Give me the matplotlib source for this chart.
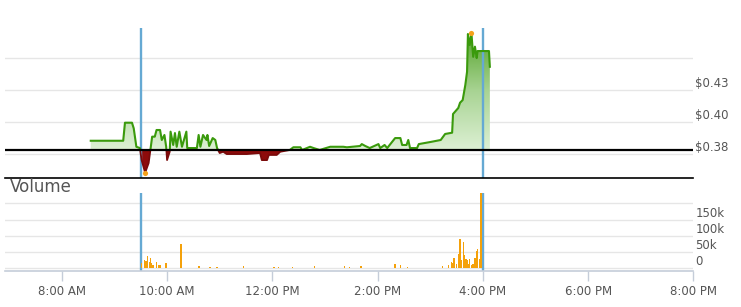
import matplotlib
matplotlib.use("Agg")
import matplotlib.pyplot as plt
import matplotlib.transforms as mtransforms
import numpy as np
from matplotlib.colors import LinearSegmentedColormap
from matplotlib.path import Path
from matplotlib.patches import Rectangle

# intraday price
price_times = ["8:33", "9:10", "9:12", "9:20", "9:22", "9:25", "9:29", "9:31", "9:35", "9:39",
               "9:41", "9:43", "9:46", "9:48", "9:52", "9:54", "9:57", "9:59", "10:00", "10:03",
               "10:04", "10:07", "10:09", "10:11", "10:14", "10:17", "10:22", "10:23", "10:34", "10:36",
               "10:38", "10:41", "10:45", "10:46", "10:48", "10:52", "10:55", "10:57", "11:00", "11:04",
               "11:08", "11:31", "11:46", "11:48", "11:54", "11:56", "12:05", "12:09", "12:20", "12:24",
               "12:32", "12:34", "12:43", "12:47", "12:54", "13:06", "13:21", "13:25", "13:40", "13:42",
               "13:46", "13:51", "14:01", "14:03", "14:08", "14:11", "14:20", "14:26", "14:28", "14:33",
               "14:35", "14:37", "14:45", "14:47", "15:00", "15:12", "15:17", "15:25", "15:26", "15:32",
               "15:34", "15:37", "15:40", "15:42", "15:43", "15:45", "15:47", "15:49", "15:51", "15:53",
               "15:54", "16:07", "16:08"]
price_values = [0.3856, 0.3856, 0.3997, 0.3997, 0.3953, 0.3809, 0.3799, 0.3705, 0.3606, 0.3682,
                0.3784, 0.3888, 0.3888, 0.3940, 0.3940, 0.3862, 0.3901, 0.3809, 0.3705, 0.3770,
                0.3927, 0.3823, 0.3916, 0.3809, 0.3927, 0.3809, 0.3927, 0.3799, 0.3799, 0.3901,
                0.3809, 0.3901, 0.3862, 0.3901, 0.3815, 0.3877, 0.3862, 0.3799, 0.3760, 0.3770,
                0.3752, 0.3752, 0.3760, 0.3705, 0.3705, 0.3745, 0.3745, 0.3770, 0.3784, 0.3805,
                0.3805, 0.3784, 0.3809, 0.3799, 0.3784, 0.3809, 0.3809, 0.3805, 0.3815, 0.3830,
                0.3815, 0.3799, 0.3830, 0.3799, 0.3823, 0.3799, 0.3877, 0.3877, 0.3823, 0.3823,
                0.3862, 0.3799, 0.3799, 0.3830, 0.3846, 0.3862, 0.3909, 0.3919, 0.4065, 0.4112,
                0.4153, 0.4174, 0.4291, 0.4395, 0.4690, 0.4604, 0.4698, 0.4512, 0.4591, 0.4502,
                0.4557, 0.4557, 0.4434]
prev_close = 0.3784
low_time, low_value = "9:35", 0.3606
high_time, high_value = "15:47", 0.4698
session_marks = ["9:30", "16:00"]

vol_times = ["9:31", "9:34", "9:36", "9:38", "9:40", "9:41", "9:42", "9:44", "9:48", "9:51",
             "9:52", "9:59", "10:16", "10:36", "10:37", "10:49", "10:57", "11:27", "12:02", "12:07",
             "12:23", "12:48", "13:22", "13:28", "13:41", "14:20", "14:26", "14:34", "15:14", "15:21",
             "15:24", "15:26", "15:27", "15:30", "15:32", "15:33", "15:34", "15:36", "15:38", "15:39",
             "15:41", "15:42", "15:44", "15:45", "15:47", "15:49", "15:51", "15:53", "15:54", "15:56",
             "15:58"]
vol_values = [17000, 26000, 23000, 38000, 19000, 32000, 17000, 10000, 19000, 9000,
              9000, 16000, 75000, 8000, 8000, 4000, 4000, 8000, 4000, 4000,
              4000, 8000, 8000, 4000, 8000, 13000, 10000, 4000, 8000, 10000,
              19000, 17000, 32000, 13000, 13000, 44000, 90000, 26000, 82000, 41000,
              28000, 26000, 13000, 28000, 10000, 13000, 33000, 54000, 60000, 28000,
              260000]

price_grid = [0.375, 0.40, 0.425, 0.45]
price_ticks = [0.375, 0.40, 0.425]
price_tick_labels = ["$0.38", "$0.40", "$0.43"]
vol_grid = [0, 50000, 100000, 150000, 200000]
vol_ticks = [0, 50000, 100000, 150000]
vol_tick_labels = ["0", "50k", "100k", "150k"]
x_ticks = [8, 10, 12, 14, 16, 18, 20]
x_tick_labels = ["8:00 AM", "10:00 AM", "12:00 PM", "2:00 PM", "4:00 PM", "6:00 PM", "8:00 PM"]


def hours(s):
    h, m = s.split(":")
    return int(h) + int(m) / 60


t = np.array([hours(s) for s in price_times])
p = np.array(price_values)
tv = np.array([hours(s) for s in vol_times])
v = np.array(vol_values)

xmin, xmax = 6.92, 20.0
grid_c = "#e6e6e6"
label_c = "#555555"
axis_c = "#c5cdd9"
blue = "#65a9d3"
green = "#3a9a0c"
red = "#8e0b0b"

fig = plt.figure(figsize=(7.41, 3.07), dpi=100)
ax = fig.add_axes([0.0067, 0.4202, 0.929, 0.4886])
axv = fig.add_axes([0.0067, 0.1182, 0.929, 0.2531])

# ---- price panel
for g in price_grid:
    ax.axhline(g, color=grid_c, lw=1, zorder=0)

up = ax.fill_between(t, p, prev_close, where=p >= prev_close, interpolate=True,
                     facecolor="none", edgecolor="none")
clip = Path.make_compound_path(*up.get_paths())
cmap = LinearSegmentedColormap.from_list("g", ["#ddf0d4", "#a9d494", "#55a32b"])
grad = np.linspace(0, 1, 256).reshape(-1, 1)
im = ax.imshow(grad, cmap=cmap, aspect="auto", origin="lower",
               extent=[xmin, xmax, prev_close, p.max()], zorder=1)
im.set_clip_path(clip, transform=ax.transData)

ax.fill_between(t, p, prev_close, where=p <= prev_close, interpolate=True,
                facecolor=red, edgecolor="none", zorder=1)

for mark in session_marks:
    ax.axvline(hours(mark), color=blue, lw=1.7, zorder=2)

line_up, = ax.plot(t, p, color=green, lw=1.5, zorder=3)
line_up.set_clip_path(Rectangle((xmin, prev_close), xmax - xmin, 1, transform=ax.transData))
line_dn, = ax.plot(t, p, color="#7a0a0a", lw=1.3, zorder=3)
line_dn.set_clip_path(Rectangle((xmin, 0), xmax - xmin, prev_close, transform=ax.transData))

ax.axhline(prev_close, color="black", lw=1.6, zorder=4)
ax.scatter([hours(low_time), hours(high_time)], [low_value, high_value],
           s=14, color="#f5a21b", zorder=5, linewidths=0)

ax.set_xlim(xmin, xmax)
ax.set_ylim(0.3565, 0.4737)
for s in ["top", "left", "right"]:
    ax.spines[s].set_visible(False)
ax.spines["bottom"].set_color("black")
ax.spines["bottom"].set_linewidth(1.2)
ax.set_xticks([])
ax.set_yticks([])

trans = mtransforms.blended_transform_factory(ax.transAxes, ax.transData)
for val, lab in zip(price_ticks, price_tick_labels):
    ax.text(1.003, val, lab, transform=trans, ha="left", va="bottom",
            fontsize=8.5, color=label_c)

# ---- volume panel
for g in vol_grid:
    axv.axhline(g, color=grid_c, lw=1, zorder=0)
for mark in session_marks:
    axv.axvline(hours(mark), color=blue, lw=1.7, zorder=1)
axv.bar(tv, v, width=1.6 / 60, color="#f4a10b", zorder=2, linewidth=0)

axv.set_xlim(xmin, xmax)
axv.set_ylim(-7400, 232000)
for s in ["top", "left", "right"]:
    axv.spines[s].set_visible(False)
axv.spines["bottom"].set_color(axis_c)
axv.spines["bottom"].set_linewidth(1.2)
axv.set_yticks([])
axv.set_xticks(x_ticks)
axv.set_xticklabels(x_tick_labels, fontsize=8.5, color=label_c)
axv.tick_params(axis="x", length=7, width=1, color=axis_c, pad=3)

transv = mtransforms.blended_transform_factory(axv.transAxes, axv.transData)
for val, lab in zip(vol_ticks, vol_tick_labels):
    axv.text(1.003, val, lab, transform=transv, ha="left", va="bottom",
             fontsize=8.5, color=label_c)

fig.text(10 / 741, 1 - 187 / 307, "Volume", ha="left", va="center",
         fontsize=12, color=label_c)

fig.savefig("out.png", dpi=100)
